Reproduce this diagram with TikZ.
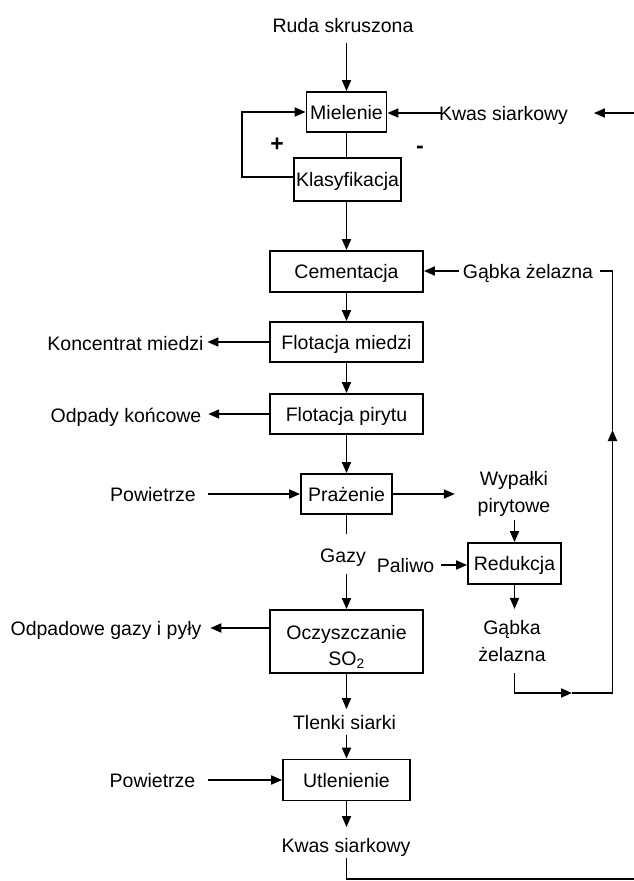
\documentclass[tikz,border=0pt]{standalone}
\usepackage{fontspec}
\setmainfont{Liberation Sans}
\usetikzlibrary{arrows.meta}
\begin{document}
\begin{tikzpicture}[x=1pt,y=-1pt,
  font=\fontsize{19.5}{27}\selectfont,
  line width=1.8pt,
  every node/.style={inner sep=3pt},
  proc/.style={draw, line width=1.8pt, inner sep=0pt, align=center},
  proc1/.style={proc, text height=14pt, text depth=0pt},
  lbl/.style={text height=16pt, text depth=2pt, inner sep=3pt},
  lbl2/.style={align=center, inner sep=3pt},
  sign/.style={font=\fontsize{23}{27}\selectfont\bfseries, inner sep=2pt},
  arr/.style={-{Triangle[length=11pt,width=9pt]}},
]
\useasboundingbox (0,0) rectangle (634,881);

% process steps
\node[proc1, minimum width=80pt,  minimum height=40pt] (miel)  at (346.5,112)   {Mielenie};
\node[proc1, minimum width=107pt, minimum height=43pt] (klas)  at (347.5,179.5) {Klasyfikacja};
\node[proc1, minimum width=153pt, minimum height=41pt] (cem)   at (346.5,271.5) {Cementacja};
\node[proc1, minimum width=153pt, minimum height=40pt] (flm)   at (346.5,342)   {Flotacja miedzi};
\node[proc1, minimum width=153pt, minimum height=40pt] (flp)   at (346.5,414)   {Flotacja pirytu};
\node[proc1, minimum width=91pt,  minimum height=40pt] (praz)  at (346.5,494)   {Prażenie};
\node[proc1, minimum width=93pt,  minimum height=41pt] (red)   at (514.5,563.5) {Redukcja};
\node[proc,  minimum width=153pt, minimum height=63pt, text height=48pt, text depth=1pt,
      font=\fontsize{19.5}{26}\selectfont] (ocz) at (346.5,641.5) {Oczyszczanie\\SO\textsubscript{2}};
\node[proc1, minimum width=127pt, minimum height=41pt] (utl)   at (346.5,780)   {Utlenienie};

% stream labels
\node[lbl] (ruda)   at (343,25)    {Ruda skruszona};
\node[lbl] (kwasA)  at (503.5,113) {Kwas siarkowy};
\node[sign] (plus)  at (277,145)   {+};
\node[sign] (minus) at (420,150)   {-};
\node[lbl] (gabkaA) at (528,271)   {Gąbka żelazna};
\node[lbl] (konc)   at (125.5,343) {Koncentrat miedzi};
\node[lbl] (odp)    at (126,415)   {Odpady końcowe};
\node[lbl] (powA)   at (153,494)   {Powietrze};
\node[lbl2] (wyp)   at (514,493.5) {Wypałki\\pirytowe};
\node[lbl] (gazy)   at (343,555)   {Gazy};
\node[lbl] (paliwo) at (405.5,565) {Paliwo};
\node[lbl] (odpg)   at (106,628)   {Odpadowe gazy i pyły};
\node[lbl2] (gabkaB) at (512,641.5) {Gąbka\\żelazna};
\node[lbl] (tlenki) at (344.5,722) {Tlenki siarki};
\node[lbl] (powB)   at (152.5,780) {Powietrze};
\node[lbl] (kwasB)  at (346,845)   {Kwas siarkowy};

% free ends and bends
\coordinate (rin)   at (634,113);
\coordinate (loopc) at (242,112);
\coordinate (lb)    at (612.5,693);
\coordinate (ma)    at (572,693);
\coordinate (mb)    at (612.5,430);
\coordinate (bl)    at (634,879);

% grinding and classification
\draw[arr, shorten <=5pt] (ruda.south -| miel.north) -- (miel.north);
\draw (miel.south) -- (miel.south |- klas.north);
\draw[arr] ([yshift=2.5pt]klas.west) -| (loopc) -- (miel.west);
\draw[arr, shorten <=-7pt] (kwasA.west) -- (kwasA.west -| miel.east);
\draw[arr, shorten >=22pt] (rin) -- (rin -| kwasA.east);
\draw[arr] (klas.south -| cem.north) -- (cem.north);

% cementation and flotation
\draw[arr] (gabkaA.west) -- (gabkaA.west -| cem.east);
\draw[arr] (cem.south) -- (flm.north);
\draw[arr] (flm.west) -- (flm.west -| konc.east);
\draw[arr] (flm.south) -- (flp.north);
\draw[arr, shorten >=3pt] (flp.west) -- (flp.west -| odp.east);
\draw[arr] (flp.south) -- (praz.north);

% roasting and reduction
\draw[arr, shorten <=8pt] (powA.east) -- (powA.east -| praz.west);
\draw[arr, shorten >=19pt] (praz.east) -- (praz.east -| wyp.west);
\draw[arr] (wyp.south -| red.north) -- (red.north);
\draw[arr, shorten <=3pt] (paliwo.east) -- (paliwo.east -| red.west);
\draw[arr, shorten >=8pt] (red.south) -- (red.south |- gabkaB.north);

% iron sponge recycled to cementation
\draw[arr, shorten <=7pt] (gabkaB.south -| red.south) |- (ma);
\draw[arr] (ma) -- (lb) -- (mb);
\draw[shorten >=3pt] (mb) |- (gabkaA.east);

% gas cleaning and oxidation
\draw[shorten >=8pt] (praz.south) -- (praz.south |- gazy.north);
\draw[arr, shorten <=6pt] (gazy.south -| ocz.north) -- (ocz.north);
\draw[arr, shorten >=5pt] (ocz.west |- odpg.east) -- (odpg.east);
\draw[arr] (ocz.south) -- (ocz.south |- tlenki.north);
\draw[arr] (tlenki.south -| utl.north) -- (utl.north);
\draw[arr, shorten <=9pt] (powB.east) -- (powB.east -| utl.west);
\draw[arr, shorten >=5pt] (utl.south) -- (utl.south |- kwasB.north);
\draw (kwasB.south -| utl.south) |- (bl);
\end{tikzpicture}
\end{document}
